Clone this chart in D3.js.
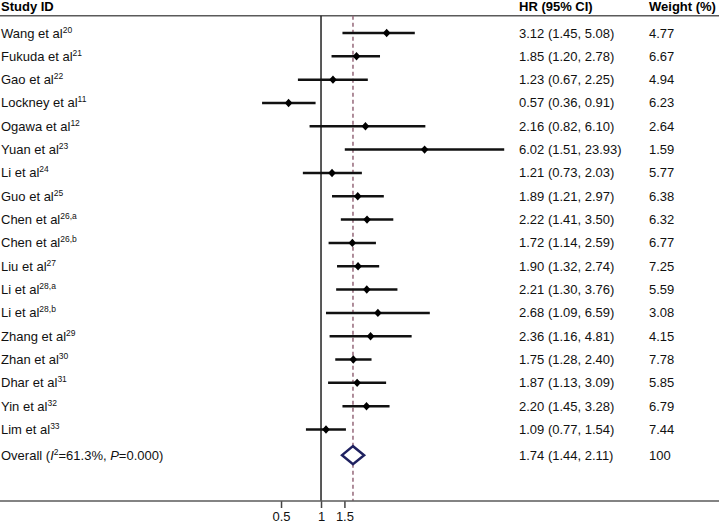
<!DOCTYPE html>
<html>
<head>
<meta charset="utf-8">
<script src="https://cdn.jsdelivr.net/npm/d3@7/dist/d3.min.js"></script>
<style>
  html, body { margin: 0; padding: 0; background: #fff; }
  svg { display: block; font-family: "Liberation Sans", Arial, sans-serif; }
</style>
</head>
<body>
<svg id="chart" width="721" height="525"></svg>
<script>
// ---- Data ----
const studies = ["Wang et al", "Fukuda et al", "Gao et al", "Lockney et al", "Ogawa et al", "Yuan et al",
  "Li et al", "Guo et al", "Chen et al", "Chen et al", "Liu et al", "Li et al", "Li et al",
  "Zhang et al", "Zhan et al", "Dhar et al", "Yin et al", "Lim et al"];
const refs = ["20", "21", "22", "11", "12", "23", "24", "25", "26,a", "26,b", "27", "28,a", "28,b",
  "29", "30", "31", "32", "33"];
const hr = [3.12, 1.85, 1.23, 0.57, 2.16, 6.02, 1.21, 1.89, 2.22, 1.72, 1.90, 2.21, 2.68, 2.36, 1.75, 1.87, 2.20, 1.09];
const lo = [1.45, 1.20, 0.67, 0.36, 0.82, 1.51, 0.73, 1.21, 1.41, 1.14, 1.32, 1.30, 1.09, 1.16, 1.28, 1.13, 1.45, 0.77];
const hi = [5.08, 2.78, 2.25, 0.91, 6.10, 23.93, 2.03, 2.97, 3.50, 2.59, 2.74, 3.76, 6.59, 4.81, 2.40, 3.09, 3.28, 1.54];
const weights = ["4.77", "6.67", "4.94", "6.23", "2.64", "1.59", "5.77", "6.38", "6.32", "6.77", "7.25", "5.59",
  "3.08", "4.15", "7.78", "5.85", "6.79", "7.44"];
const overall = { hr: 1.74, lo: 1.44, hi: 2.11, weight: "100" };
const xTicks = [0.5, 1, 1.5];
const headers = ["Study ID", "HR (95% CI)", "Weight (%)"];

// ---- Layout ----
const svg = d3.select("#chart");
const W = 721;
const fs = 13;
const x = d3.scaleLog().domain([0.04, 26]).range([135.3, 509]);
const y = d3.scaleLinear().domain([0, 17]).range([33, 429.5]);
const overallIdx = 18.1;
const topLine = 15.7, axisY = 501;
const colHR = 519, colW = 649;
const fmt = d3.format(".2f");

// header
svg.append("text").attr("x", 1).attr("y", 11).attr("font-size", fs).attr("font-weight", "bold").text(headers[0]);
svg.append("text").attr("x", colHR).attr("y", 11).attr("font-size", fs).attr("font-weight", "bold").text(headers[1]);
svg.append("text").attr("x", colW).attr("y", 11).attr("font-size", fs).attr("font-weight", "bold").text(headers[2]);

svg.append("line").attr("x1", 0).attr("x2", 719).attr("y1", topLine).attr("y2", topLine)
  .attr("stroke", "#5a5a5a").attr("stroke-width", 1.6);

// null line
svg.append("line").attr("x1", x(1)).attr("x2", x(1)).attr("y1", topLine).attr("y2", axisY)
  .attr("stroke", "#222").attr("stroke-width", 1.5);
// overall dashed line
svg.append("line").attr("x1", x(overall.hr)).attr("x2", x(overall.hr)).attr("y1", topLine).attr("y2", axisY)
  .attr("stroke", "#95687a").attr("stroke-width", 1.5).attr("stroke-dasharray", "4,3");

// x axis
const axis = d3.axisBottom(x).tickValues(xTicks).tickSize(7).tickPadding(4)
  .tickFormat(d => String(d));
const gAx = svg.append("g").attr("transform", `translate(0,${axisY})`).call(axis);
gAx.select(".domain").remove();
gAx.selectAll(".tick line").attr("stroke", "#444").attr("stroke-width", 1.5);
gAx.selectAll(".tick text").attr("font-size", fs).attr("fill", "#111")
  .attr("font-family", "'Liberation Sans', Arial, sans-serif");
svg.append("line").attr("x1", 0).attr("x2", 719).attr("y1", axisY).attr("y2", axisY)
  .attr("stroke", "#5a5a5a").attr("stroke-width", 1.6);

// rows
const rows = studies.map((s, i) => ({ s, ref: refs[i], hr: hr[i], lo: lo[i], hi: hi[i], w: weights[i], i }));
const g = svg.append("g");

rows.forEach(d => {
  const yy = y(d.i);
  const t = g.append("text").attr("x", 1).attr("y", yy + 4.5).attr("font-size", fs).attr("fill", "#111");
  t.append("tspan").text(d.s);
  t.append("tspan").attr("font-size", 8.5).attr("dy", -5).text(d.ref);

  g.append("line").attr("x1", x(d.lo)).attr("x2", x(d.hi)).attr("y1", yy).attr("y2", yy)
    .attr("stroke", "#111").attr("stroke-width", 2.5);
  const cx = x(d.hr);
  g.append("path")
    .attr("d", `M${cx - 3.8},${yy}L${cx},${yy - 4.2}L${cx + 3.8},${yy}L${cx},${yy + 4.2}Z`)
    .attr("fill", "#000");

  g.append("text").attr("x", colHR).attr("y", yy + 4.5).attr("font-size", fs).attr("fill", "#111")
    .text(`${fmt(d.hr)} (${fmt(d.lo)}, ${fmt(d.hi)})`);
  g.append("text").attr("x", colW).attr("y", yy + 4.5).attr("font-size", fs).attr("fill", "#111").text(d.w);
});

// overall row
const yo = y(overallIdx);
const ot = g.append("text").attr("x", 1).attr("y", yo + 4.5).attr("font-size", fs).attr("fill", "#111");
ot.append("tspan").text("Overall (");
ot.append("tspan").attr("font-style", "italic").text("I");
ot.append("tspan").attr("font-size", 8.5).attr("dy", -5).text("2");
ot.append("tspan").attr("dy", 5).text("=61.3%, ");
ot.append("tspan").attr("font-style", "italic").text("P");
ot.append("tspan").text("=0.000)");

g.append("path")
  .attr("d", `M${x(overall.lo)},${yo}L${x(overall.hr)},${yo - 9}L${x(overall.hi)},${yo}L${x(overall.hr)},${yo + 9}Z`)
  .attr("fill", "#fff").attr("stroke", "#1f2160").attr("stroke-width", 2.5);

g.append("text").attr("x", colHR).attr("y", yo + 4.5).attr("font-size", fs).attr("fill", "#111")
  .text(`${fmt(overall.hr)} (${fmt(overall.lo)}, ${fmt(overall.hi)})`);
g.append("text").attr("x", colW).attr("y", yo + 4.5).attr("font-size", fs).attr("fill", "#111").text(overall.weight);
</script>
</body>
</html>
